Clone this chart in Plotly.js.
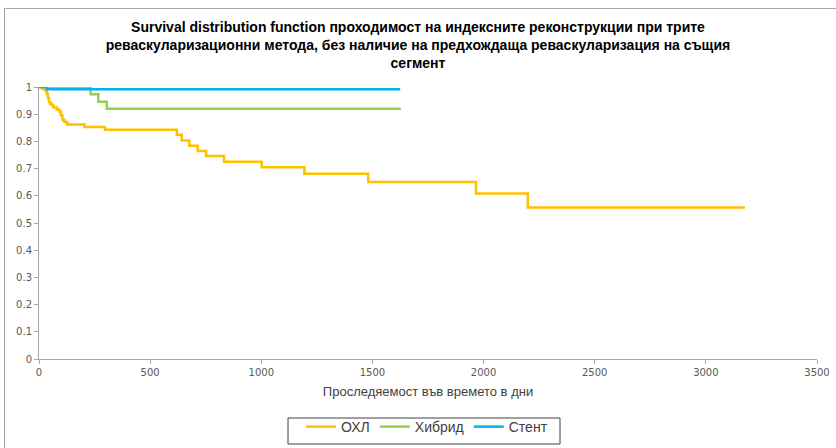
<!DOCTYPE html>
<html>
<head>
<meta charset="utf-8">
<script src="https://cdn.plot.ly/plotly-3.0.1.min.js"></script>
<style>
  html, body { margin: 0; padding: 0; background: #fff; overflow: hidden; }
  #wrap { position: relative; width: 836px; height: 448px; }
  #chart { position: absolute; left: 0; top: 0; width: 836px; height: 448px; }
  #frame { position: absolute; left: 4px; top: 8px; width: 900px; height: 500px;
           border: 1px solid #a6a6a6; box-sizing: border-box; pointer-events: none; }
</style>
</head>
<body>
<div id="wrap">
  <div id="chart"></div>
  <div id="frame"></div>
</div>
<script>
// Kaplan–Meier style survival estimates (days, proportion patent)
const ohlDays = [0, 10, 20, 30, 35, 40, 45, 50, 57, 65, 80, 92, 98, 105, 114, 127, 205, 297,
                 620, 642, 676, 714, 752, 832, 1002, 1194, 1481, 1966, 2199, 3176];
const ohlSurv = [1, 0.996, 0.992, 0.988, 0.975, 0.96, 0.945, 0.938, 0.933, 0.925, 0.917, 0.91,
                 0.896, 0.88, 0.871, 0.862, 0.853, 0.843, 0.824, 0.803, 0.784, 0.765, 0.746,
                 0.725, 0.705, 0.681, 0.651, 0.608, 0.557, 0.557];

const hybridDays = [0, 232, 267, 305, 1628];
const hybridSurv = [1, 0.973, 0.946, 0.92, 0.92];

const stentDays = [0, 35, 1625];
const stentSurv = [1, 0.992, 0.992];

const seriesNames = ['ОХЛ', 'Хибрид', 'Стент'];
const seriesColors = ['#FFC000', '#92D050', '#00B0F0'];

const chartTitle = 'Survival distribution function проходимост на индексните реконструкции при трите<br>' +
                   'реваскуларизационни метода, без наличие на предхождаща реваскуларизация на същия<br>' +
                   'сегмент';
const xTitle = 'Проследяемост във времето в дни';

function stepTrace(x, y, i) {
  return {
    x: x, y: y, name: seriesNames[i], type: 'scatter', mode: 'lines',
    line: { shape: 'hv', color: seriesColors[i], width: 2.5 },
    cliponaxis: false, hoverinfo: 'x+y+name'
  };
}

const data = [
  stepTrace(ohlDays, ohlSurv, 0),
  stepTrace(hybridDays, hybridSurv, 1),
  stepTrace(stentDays, stentSurv, 2)
];

const layout = {
  width: 836, height: 448,
  margin: { l: 39, r: 19, t: 87, b: 89 },
  paper_bgcolor: '#ffffff', plot_bgcolor: '#ffffff',
  font: { family: 'Liberation Sans, Arial, sans-serif', color: '#404040' },
  title: {
    text: chartTitle,
    font: { family: 'Liberation Sans, Arial, sans-serif', size: 14, color: '#000000', weight: 'bold' },
    x: 0.5, xanchor: 'center', xref: 'container',
    y: 1 - 32 / 448, yanchor: 'top', yref: 'container'
  },
  xaxis: {
    range: [0, 3500], dtick: 500, tick0: 0,
    showgrid: false, zeroline: false,
    showline: true, linecolor: '#a6a6a6', linewidth: 1,
    ticks: 'outside', ticklen: 4, tickcolor: '#a6a6a6',
    tickfont: { family: 'DejaVu Sans, Verdana, sans-serif', size: 10, color: '#595959' },
    title: { text: xTitle, standoff: 9,
             font: { family: 'Liberation Sans, Arial, sans-serif', size: 13, color: '#404040' } },
    automargin: false, fixedrange: true
  },
  yaxis: {
    range: [0, 1], dtick: 0.1, tick0: 0,
    showgrid: false, zeroline: false,
    showline: true, linecolor: '#a6a6a6', linewidth: 1,
    ticks: 'outside', ticklen: 4, tickcolor: '#a6a6a6',
    tickfont: { family: 'DejaVu Sans, Verdana, sans-serif', size: 10, color: '#595959' },
    automargin: false, fixedrange: true
  },
  showlegend: true,
  legend: {
    orientation: 'h',
    x: 427 / 836, xanchor: 'center', xref: 'container',
    y: 1 - 411 / 448, yanchor: 'top', yref: 'container',
    borderwidth: 0, bgcolor: 'rgba(0,0,0,0)',
    font: { family: 'Liberation Sans, Arial, sans-serif', size: 14, color: '#404040' },
    itemwidth: 30, tracegroupgap: 0
  },
  // legend frame
  shapes: [{
    type: 'rect', xref: 'paper', yref: 'paper',
    x0: (288 - 39) / 778, x1: (560 - 39) / 778,
    y0: (359 - 418) / 272, y1: (359 - 444) / 272,
    line: { color: '#404040', width: 1 }, fillcolor: 'rgba(0,0,0,0)', layer: 'below'
  }]
};

Plotly.newPlot('chart', data, layout, { displayModeBar: false, staticPlot: true });
</script>
</body>
</html>
